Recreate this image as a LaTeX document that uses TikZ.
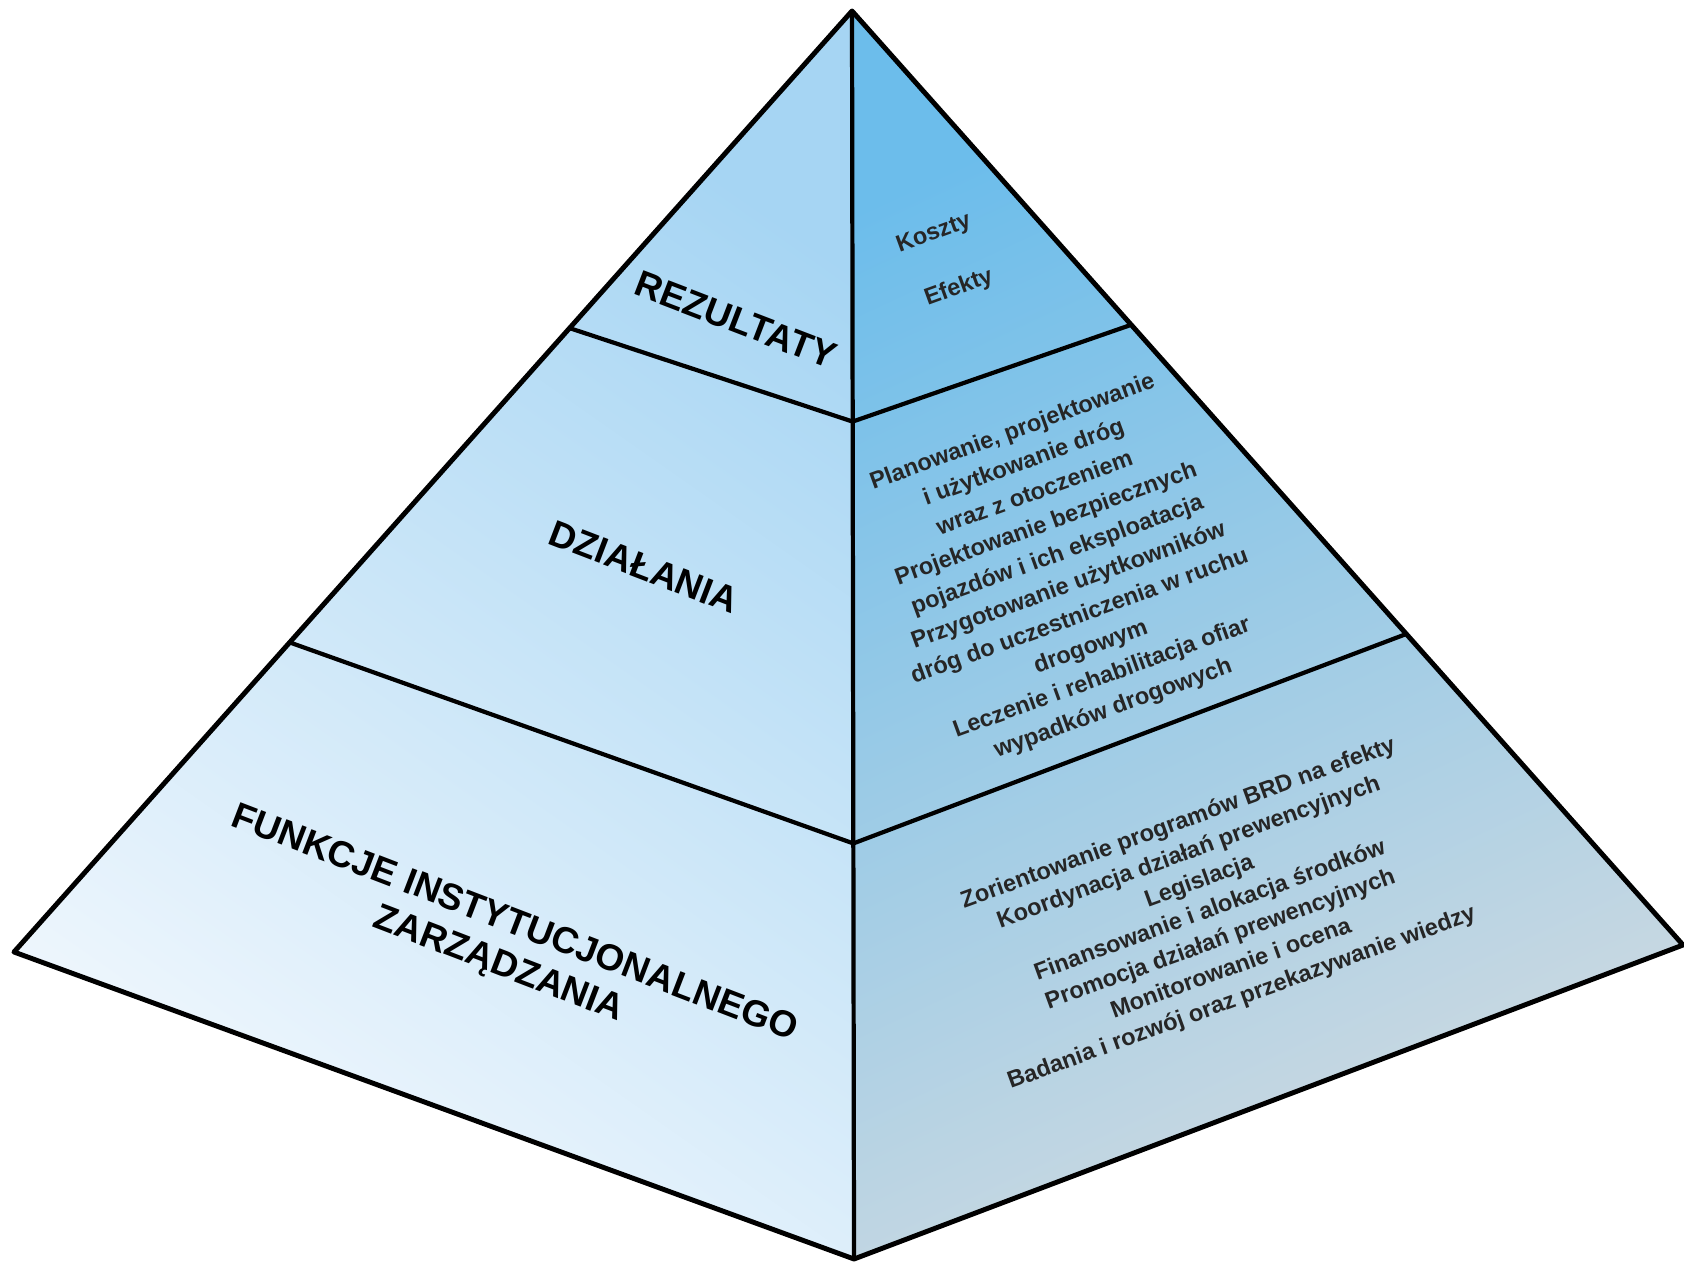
\documentclass[tikz,border=0pt]{standalone}
\usepackage{fontspec}
\setmainfont{Liberation Sans}
\usepackage{tikz}
\usetikzlibrary{calc}

\definecolor{leftTop}{HTML}{A6D5F3}
\definecolor{leftBot}{HTML}{F0F7FD}
\definecolor{rightTop}{HTML}{6CBDEB}
\definecolor{rightBot}{HTML}{CFDAE1}

\begin{document}
\begin{tikzpicture}[
        edge/.style={draw=black, line width=1.2pt, line join=round},
        title/.style={font=\fontsize{10.5}{12.5}\selectfont\bfseries, rotate=-21, align=center},
        item/.style={font=\fontsize{6.7}{9.3}\selectfont\bfseries, text=black!85, rotate=20, align=center}
        ]
    \useasboundingbox (0,0) rectangle (16.84,12.64);

    % Define corners of the pyramid
    \coordinate (A) at (8.52, 12.53);
    \coordinate (L) at (0.14, 3.12);
    \coordinate (R) at (16.83, 3.19);
    \coordinate (B) at (8.54, 0.05);

    % Define level points on the edges
    \coordinate (L1) at ($(A)!0.337!(L)$);
    \coordinate (L2) at ($(A)!0.671!(L)$);
    \coordinate (C1) at ($(A)!0.329!(B)$);
    \coordinate (C2) at ($(A)!0.667!(B)$);
    \coordinate (R1) at ($(A)!0.336!(R)$);
    \coordinate (R2) at ($(A)!0.667!(R)$);

    % Fill the two faces
    \shade[top color=leftTop, bottom color=leftBot, shading angle=-35] (A) -- (L) -- (B) -- cycle;
    \shade[top color=rightTop, bottom color=rightBot, shading angle=25] (A) -- (B) -- (R) -- cycle;

    % Draw the level lines
    \draw[edge] (L1) -- (C1) -- (R1);
    \draw[edge] (L2) -- (C2) -- (R2);

    % Draw the outline and the front edge
    \draw[edge, line width=1.4pt] (A) -- (L) -- (B) -- (R) -- cycle;
    \draw[edge] (A) -- (B);

    % Level names on the left face
    \node[title] (rez) at (7.36, 9.44) {REZULTATY};
    \node[title] (dzi) at (6.44, 6.97) {DZIAŁANIA};
    \node[title] (fun) at (5.06, 3.19) {FUNKCJE INSTYTUCJONALNEGO\\ZARZĄDZANIA};

    % Level contents on the right face
    \node[item] (kos) at (9.34, 10.30) {Koszty};
    \node[item] (efe) at (9.59, 9.76) {Efekty};
    \node[item] (act) at (10.63, 6.93) {Planowanie, projektowanie\\i użytkowanie dróg\\wraz z otoczeniem\\Projektowanie bezpiecznych\\pojazdów i ich eksploatacja\\Przygotowanie użytkowników\\dróg do uczestniczenia w ruchu\\drogowym\\Leczenie i rehabilitacja ofiar\\wypadków drogowych};
    \node[item, font=\fontsize{6.7}{8.8}\selectfont\bfseries] (ins) at (12.10, 3.53) {Zorientowanie programów BRD na efekty\\Koordynacja działań prewencyjnych\\Legislacja\\Finansowanie i alokacja środków\\Promocja działań prewencyjnych\\Monitorowanie i ocena\\Badania i rozwój oraz przekazywanie wiedzy};

\end{tikzpicture}
\end{document}
